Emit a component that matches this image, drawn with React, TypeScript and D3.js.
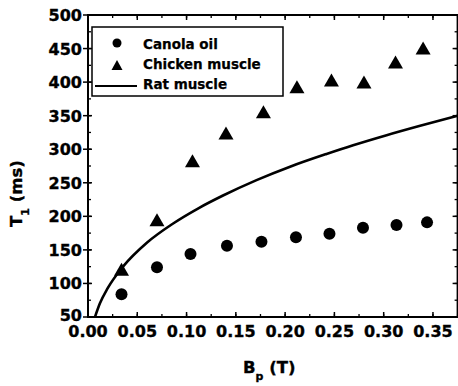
import React from "react";
import * as d3 from "d3";

const canolaB = [0.034, 0.07, 0.104, 0.141, 0.176, 0.211, 0.245, 0.279, 0.313, 0.344];
const canolaT1 = [84, 124, 144, 156, 162, 169, 174, 183, 187, 191];
const chickenB = [0.034, 0.07, 0.106, 0.14, 0.178, 0.212, 0.247, 0.28, 0.312, 0.34];
const chickenT1 = [121, 195, 283, 324, 356, 393, 403, 400, 430, 451];
const ratB = [0.0071, 0.012, 0.02, 0.0355, 0.06, 0.086, 0.112, 0.137, 0.171, 0.205, 0.242, 0.269, 0.303, 0.337, 0.375];
const ratT1 = [50, 70, 93, 125, 161, 189, 212, 231, 254, 274, 293, 306, 321, 335, 350];
const xTicks = [0, 0.05, 0.1, 0.15, 0.2, 0.25, 0.3, 0.35];
const yTicks = [50, 100, 150, 200, 250, 300, 350, 400, 450, 500];
const legendLabels = ["Canola oil", "Chicken muscle", "Rat muscle"];

const W = 458, H = 386;
const L = 88, R = 457.6, T = 15, B = 317;
const FONT = "'DejaVu Sans', sans-serif";

export default function App() {
  const x = d3.scaleLinear().domain([0, 0.375]).range([L, R]);
  const y = d3.scaleLinear().domain([50, 500]).range([B, T]);
  const xMinor = d3.range(0, 0.376, 0.025);
  const yMinor = d3.range(50, 501, 25);
  const line = d3
    .line<number>()
    .x((_, i) => x(ratB[i]))
    .y((d) => y(d))
    .curve(d3.curveMonotoneX);
  const tri = (cx: number, cy: number, hw: number, hh: number) =>
    `M${cx - hw},${cy + hh}L${cx + hw},${cy + hh}L${cx},${cy - hh}Z`;
  const txt = { fontFamily: FONT, fontWeight: "bold" as const, stroke: "#000", strokeWidth: 0.35 };

  return (
    <svg width={W} height={H} style={{ position: "absolute", left: 0, top: 0, background: "#fff" }}>
      <rect x={0} y={0} width={W} height={H} fill="#fff" />
      {xMinor.map((v, i) => (
        <g key={"xm" + i} stroke="#000" strokeWidth={1.3}>
          <line x1={x(v)} x2={x(v)} y1={B} y2={B - 3} />
          <line x1={x(v)} x2={x(v)} y1={T} y2={T + 3} />
        </g>
      ))}
      {yMinor.map((v, i) => (
        <g key={"ym" + i} stroke="#000" strokeWidth={1.3}>
          <line x1={L} x2={L + 3} y1={y(v)} y2={y(v)} />
          <line x1={R} x2={R - 3} y1={y(v)} y2={y(v)} />
        </g>
      ))}
      {xTicks.map((v, i) => (
        <g key={"xt" + i} stroke="#000" strokeWidth={1.5}>
          <line x1={x(v)} x2={x(v)} y1={B} y2={B - 5} />
          <line x1={x(v)} x2={x(v)} y1={T} y2={T + 5} />
        </g>
      ))}
      {yTicks.map((v, i) => (
        <g key={"yt" + i} stroke="#000" strokeWidth={1.5}>
          <line x1={L - 5} x2={L + 4} y1={y(v)} y2={y(v)} />
          <line x1={R} x2={R - 5} y1={y(v)} y2={y(v)} />
        </g>
      ))}
      <rect x={L} y={T} width={R - L} height={B - T} fill="none" stroke="#000" strokeWidth={2} />
      {xTicks.map((v, i) => (
        <text key={"xl" + i} x={x(v)} y={337} textAnchor="middle" fontSize={16} {...txt}>
          {v.toFixed(2)}
        </text>
      ))}
      {yTicks.map((v, i) => (
        <text key={"yl" + i} x={82} y={y(v) + (v === 50 ? 4 : 6)} textAnchor="end" fontSize={16} {...txt}>
          {v}
        </text>
      ))}
      <text x={243} y={373} fontSize={16.5} {...txt}>
        B<tspan fontSize={11} dy={7}>p</tspan>
        <tspan dy={-7}> (T)</tspan>
      </text>
      <text transform="translate(22,227) rotate(-90)" fontSize={16.5} {...txt}>
        T<tspan fontSize={11} dy={7}>1</tspan>
        <tspan dy={-7}> (ms)</tspan>
      </text>
      <path d={line(ratT1) || ""} fill="none" stroke="#000" strokeWidth={2.6} />
      {canolaB.map((b, i) => (
        <circle key={"c" + i} cx={x(b)} cy={y(canolaT1[i])} r={6} fill="#000" />
      ))}
      {chickenB.map((b, i) => (
        <path key={"t" + i} d={tri(x(b), y(chickenT1[i]), 7.5, 6.5)} fill="#000" />
      ))}
      <rect x={92} y={27} width={191} height={69} fill="#fff" stroke="#000" strokeWidth={1.5} />
      <circle cx={117} cy={43} r={4.5} fill="#000" />
      <path d={tri(117, 65, 5.5, 5)} fill="#000" />
      <line x1={95} x2={137} y1={86} y2={86} stroke="#000" strokeWidth={2} />
      {legendLabels.map((t, i) => (
        <text key={"lg" + i} x={143} y={49 + i * 20} fontSize={13.5} {...txt} strokeWidth={0.25}>
          {t}
        </text>
      ))}
    </svg>
  );
}
